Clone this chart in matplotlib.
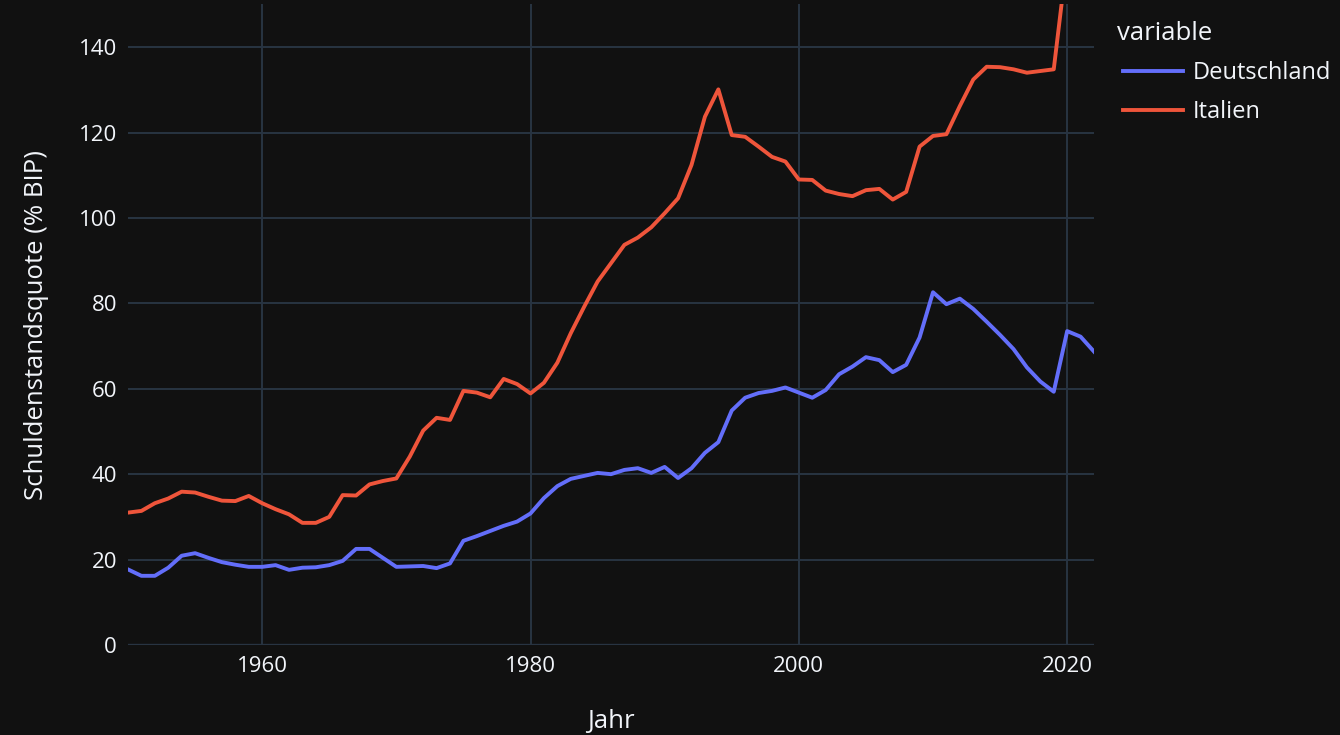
import matplotlib
matplotlib.use("Agg")
import matplotlib.pyplot as plt
import numpy as np

plt.rcParams['font.family'] = ['Open Sans', 'DejaVu Sans']

# Daten (Schuldenstandsquote in % des BIP)
jahre = list(range(1950, 2023))
deutschland = [17.7, 16.2, 16.2, 18.1, 20.9, 21.5, 20.4, 19.4, 18.8, 18.3,
               18.3, 18.7, 17.6, 18.1, 18.2, 18.7, 19.7, 22.5, 22.5, 20.4,
               18.3, 18.4, 18.5, 18.0, 19.1, 24.4, 25.5, 26.7, 27.9, 28.9,
               30.8, 34.4, 37.2, 38.9, 39.6, 40.3, 40.0, 41.0, 41.4, 40.3,
               41.7, 39.1, 41.4, 45.0, 47.5, 54.9, 57.9, 59.0, 59.5, 60.3,
               59.1, 57.9, 59.7, 63.4, 65.2, 67.4, 66.7, 63.9, 65.6, 72.0,
               82.6, 79.8, 81.1, 78.7, 75.7, 72.6, 69.3, 65.0, 61.7, 59.3,
               73.5, 72.2, 68.7]
italien = [31.0, 31.4, 33.2, 34.3, 35.9, 35.7, 34.7, 33.8, 33.7, 34.9,
           33.2, 31.8, 30.6, 28.6, 28.6, 30.0, 35.1, 35.0, 37.6, 38.4,
           39.0, 44.1, 50.2, 53.2, 52.7, 59.5, 59.1, 58.0, 62.3, 61.1,
           58.9, 61.4, 66.1, 73.0, 79.2, 85.1, 89.4, 93.7, 95.4, 97.8,
           101.1, 104.6, 112.4, 123.7, 130.1, 119.4, 119.0, 116.7, 114.3, 113.2,
           109.0, 108.9, 106.4, 105.6, 105.1, 106.5, 106.8, 104.3, 106.1, 116.7,
           119.2, 119.6, 126.2, 132.4, 135.4, 135.3, 134.8, 134.0, 134.4, 134.8,
           161.0, 156.0, 152.0]

bg = '#111111'
grid = '#283442'
txt = '#f2f5fa'

fig = plt.figure(figsize=(13.4, 7.35), dpi=100, facecolor=bg)
ax = fig.add_axes([128/1340, 1-645/735, (1094-128)/1340, (645-4.4)/735])
ax.set_facecolor(bg)

ax.plot(jahre, deutschland, color='#636efa', lw=2.8, label='Deutschland', solid_joinstyle='round')
ax.plot(jahre, italien, color='#EF553B', lw=2.8, label='Italien', solid_joinstyle='round')

ax.set_xlim(1950, 2022)
ax.set_ylim(0, 150)
ax.set_xticks([1960, 1980, 2000, 2020])
ax.set_yticks(range(0, 141, 20))
ax.grid(True, color=grid, lw=1.4)
ax.set_axisbelow(True)
ax.axhline(0, color=grid, lw=2.4, zorder=0.5)
for s in ax.spines.values():
    s.set_visible(False)
ax.tick_params(length=0, labelsize=16, colors=txt, pad=8)

ax.set_xlabel('Jahr', fontsize=18.5, color=txt, labelpad=23)
ax.set_ylabel('Schuldenstandsquote (% BIP)', fontsize=18.5, color=txt, labelpad=21)

# Legende
fig.text(1117/1340, 1-33/735, 'variable', fontsize=18.5, color=txt, ha='left', va='center')
leg = ax.legend(loc='upper left', bbox_to_anchor=(1123/1340, 1-61/735),
                bbox_transform=fig.transFigure, frameon=False,
                fontsize=17, handlelength=2.55, handletextpad=0.42,
                labelspacing=0.63, borderpad=0, borderaxespad=0)
for t in leg.get_texts():
    t.set_color(txt)

fig.savefig('out.png', facecolor=bg)
